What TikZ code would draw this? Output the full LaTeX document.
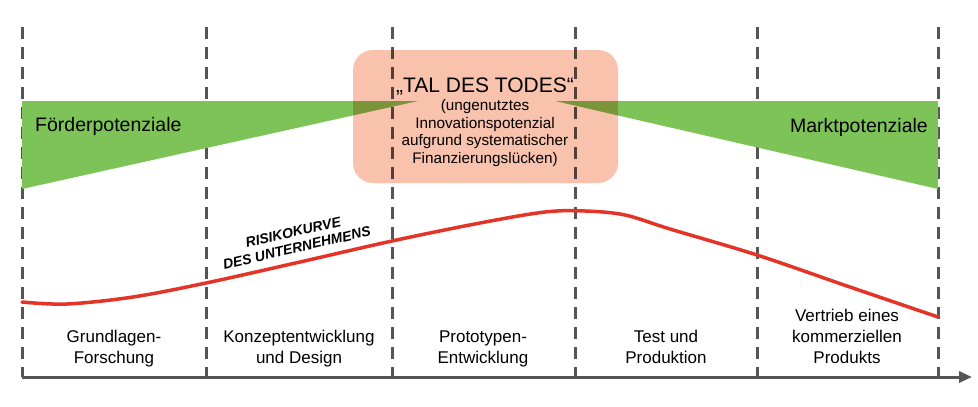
\documentclass[tikz,border=0pt]{standalone}
\usepackage{fontspec}
\setmainfont{Liberation Sans}
\usetikzlibrary{arrows.meta}
\definecolor{axisgray}{RGB}{85,85,85}
\definecolor{potgreen}{RGB}{125,195,88}
\definecolor{riskred}{RGB}{228,52,40}
\definecolor{talpink}{RGB}{248,194,172}
\tikzset{
  phaseline/.style={draw=axisgray, line width=3pt, dash pattern=on 12pt off 8pt},
  potwedge/.style={fill=potgreen, draw=none},
  risk/.style={draw=riskred, line width=3.5pt, line cap=round},
  phaselabel/.style={anchor=south, align=center, inner sep=0pt, font=\fontsize{17}{21}\selectfont},
  potlabel/.style={inner sep=0pt, font=\fontsize{19.5}{22}\selectfont},
}
\begin{document}
\begin{tikzpicture}[x=1pt, y=-1pt]
\path[use as bounding box] (0,0) rectangle (978,407);
% phase boundaries
\foreach \i/\x in {0/22, 1/206, 2/392, 3/575, 4/757, 5/938} {
  \coordinate (t\i) at (\x,27);
  \coordinate (b\i) at (\x,377);
  \draw[phaseline] (t\i) -- (b\i);
}
% axis
\coordinate (axend) at (972,377);
\draw[axisgray, line width=3pt, -{Triangle[length=13pt,width=11pt]}] (b0) -- (axend);
% potential wedges
\fill[potwedge] (22,101) -- (418,101) -- (22,189) -- cycle;
\fill[potwedge] (555,101) -- (938,101) -- (938,189) -- cycle;
\node[potlabel, anchor=base west] (foerder) at (35,131) {Förderpotenziale};
\node[potlabel, anchor=base east] (markt) at (928,132) {Marktpotenziale};
% risk curve
\draw[risk] plot[smooth, tension=0.55] coordinates {
  (22,302) (67,304) (133,297) (206,283) (300,262) (392,241) (480,223)
  (545,212) (585,211) (625,215) (670,229) (757,255) (847,286) (938,317)};
\node[rotate=13, align=center, inner sep=0pt,
  font=\bfseries\itshape\fontsize{14}{16}\selectfont] (risklabel) at (295,240)
  {RISIKOKURVE\\DES UNTERNEHMENS};
% valley of death
\fill[talpink, blend mode=multiply, rounded corners=20pt] (353,50) rectangle (618,183);
\node[anchor=base, inner sep=0pt, font=\fontsize{21}{24}\selectfont] (tal) at (485,92) {„TAL DES TODES“};
\node[align=center, inner sep=0pt, font=\fontsize{15.3}{17.6}\selectfont] (talsub) at (485,133)
  {(ungenutztes\\Innovationspotenzial\\aufgrund systematischer\\Finanzierungslücken)};
% phase labels
\node[phaselabel] (p1) at (114,370) {Grundlagen-\\Forschung\strut};
\node[phaselabel] (p2) at (299,370) {Konzeptentwicklung\\und Design\strut};
\node[phaselabel] (p3) at (483,370) {Prototypen-\\Entwicklung\strut};
\node[phaselabel] (p4) at (666,370) {Test und\\Produktion\strut};
\node[phaselabel] (p5) at (847,370) {Vertrieb eines\\kommerziellen\\Produkts\strut};
\end{tikzpicture}
\end{document}
